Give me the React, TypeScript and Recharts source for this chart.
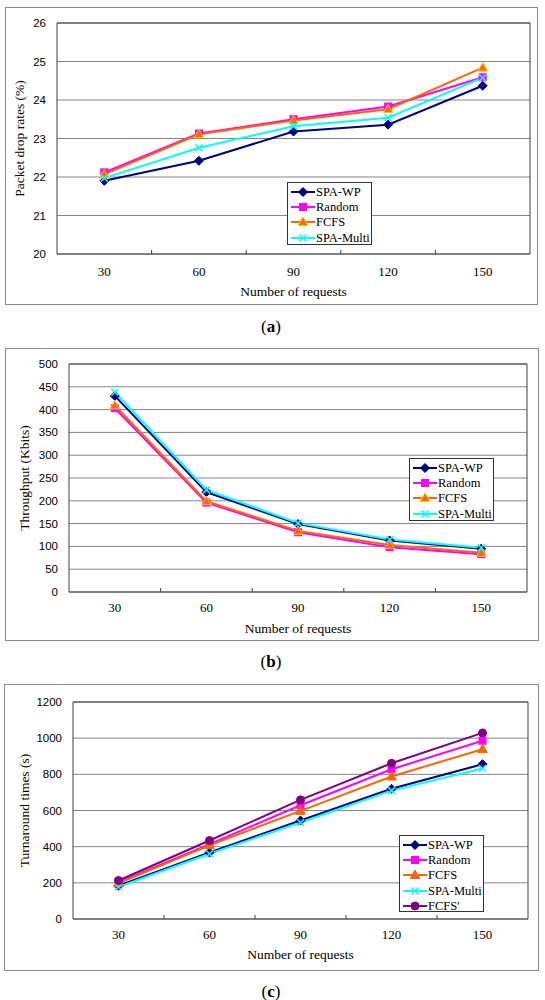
import React from 'react';
import { LineChart, Line, XAxis, YAxis, CartesianGrid, ReferenceArea, Legend } from 'recharts';

// ---------- data ----------
const requests = [30, 60, 90, 120, 150];

const dropTicks = [20, 21, 22, 23, 24, 25, 26];
const dropSpaWp = [21.9, 22.42, 23.18, 23.36, 24.37];
const dropRandom = [22.12, 23.13, 23.5, 23.83, 24.59];
const dropFcfs = [22.07, 23.11, 23.47, 23.76, 24.84];
const dropSpaMulti = [21.97, 22.76, 23.32, 23.54, 24.58];

const thrTicks = [0, 50, 100, 150, 200, 250, 300, 350, 400, 450, 500];
const thrSpaWp = [430, 219, 149, 113, 95];
const thrRandom = [403, 196, 131, 98, 83];
const thrFcfs = [409, 199, 134, 103, 86];
const thrSpaMulti = [438, 224, 151, 115, 97];

const tatTicks = [0, 200, 400, 600, 800, 1000, 1200];
const tatSpaWp = [184, 368, 545, 720, 856];
const tatRandom = [202, 414, 629, 828, 986];
const tatFcfs = [197, 408, 598, 788, 939];
const tatSpaMulti = [177, 361, 534, 710, 832];
const tatFcfsPrime = [213, 434, 659, 861, 1029];

// ---------- helpers ----------
const step = requests[1] - requests[0];
const xDomain = [requests[0] - step / 2, requests[requests.length - 1] + step / 2];
const boundaryTicks = requests.slice(0, -1).map((r) => r + step / 2);
const allXTicks = [...requests, ...boundaryTicks].sort((a, b) => a - b);

type Kind = 'diamond' | 'square' | 'triangle' | 'x' | 'circle';
type Series = { key: string; name: string; values: number[]; color: string; kind: Kind; mFill: string; mStroke: string };

function Marker({ kind, cx, cy, fill, stroke }: { kind: Kind; cx: number; cy: number; fill: string; stroke: string }) {
  if (cx == null || cy == null || isNaN(cx) || isNaN(cy)) return null;
  switch (kind) {
    case 'diamond':
      return <path d={`M${cx},${cy - 4.5}L${cx + 4.5},${cy}L${cx},${cy + 4.5}L${cx - 4.5},${cy}Z`} fill={fill} stroke={stroke} strokeWidth={1} />;
    case 'square':
      return <rect x={cx - 3.5} y={cy - 3.5} width={7} height={7} fill={fill} stroke={stroke} strokeWidth={1} />;
    case 'triangle':
      return <path d={`M${cx},${cy - 5}L${cx + 4.8},${cy + 3.5}L${cx - 4.8},${cy + 3.5}Z`} fill={fill} stroke={stroke} strokeWidth={1} />;
    case 'x':
      return <path d={`M${cx - 3.5},${cy - 3.5}L${cx + 3.5},${cy + 3.5}M${cx - 3.5},${cy + 3.5}L${cx + 3.5},${cy - 3.5}`} fill="none" stroke={stroke} strokeWidth={1.5} />;
    case 'circle':
      return <circle cx={cx} cy={cy} r={4} fill={fill} stroke={stroke} strokeWidth={1} />;
  }
  return null;
}

const NAVY = '#000080';
const MAGENTA = '#FF00FF';
const ORANGE = '#FF6600';
const CYAN = '#00FFFF';
const PURPLE = '#800080';

const dropSeries: Series[] = [
  { key: 's1', name: 'SPA-WP', values: dropSpaWp, color: NAVY, kind: 'diamond', mFill: NAVY, mStroke: NAVY },
  { key: 's2', name: 'Random', values: dropRandom, color: MAGENTA, kind: 'square', mFill: MAGENTA, mStroke: MAGENTA },
  { key: 's3', name: 'FCFS', values: dropFcfs, color: ORANGE, kind: 'triangle', mFill: '#FF6600', mStroke: '#FFCC00' },
  { key: 's4', name: 'SPA-Multi', values: dropSpaMulti, color: CYAN, kind: 'x', mFill: 'none', mStroke: CYAN },
];
const thrSeries: Series[] = [
  { key: 's1', name: 'SPA-WP', values: thrSpaWp, color: NAVY, kind: 'diamond', mFill: NAVY, mStroke: NAVY },
  { key: 's2', name: 'Random', values: thrRandom, color: MAGENTA, kind: 'square', mFill: MAGENTA, mStroke: MAGENTA },
  { key: 's3', name: 'FCFS', values: thrFcfs, color: ORANGE, kind: 'triangle', mFill: '#FF6600', mStroke: '#FFCC00' },
  { key: 's4', name: 'SPA-Multi', values: thrSpaMulti, color: CYAN, kind: 'x', mFill: 'none', mStroke: CYAN },
];
const tatSeries: Series[] = [
  { key: 's1', name: 'SPA-WP', values: tatSpaWp, color: NAVY, kind: 'diamond', mFill: NAVY, mStroke: NAVY },
  { key: 's2', name: 'Random', values: tatRandom, color: MAGENTA, kind: 'square', mFill: MAGENTA, mStroke: MAGENTA },
  { key: 's3', name: 'FCFS', values: tatFcfs, color: ORANGE, kind: 'triangle', mFill: ORANGE, mStroke: ORANGE },
  { key: 's4', name: 'SPA-Multi', values: tatSpaMulti, color: CYAN, kind: 'x', mFill: 'none', mStroke: CYAN },
  { key: 's5', name: "FCFS'", values: tatFcfsPrime, color: PURPLE, kind: 'circle', mFill: PURPLE, mStroke: PURPLE },
];

const SERIF = '"Liberation Serif", "Times New Roman", serif';
const SANS = '"Liberation Sans", Arial, sans-serif';

type PanelCfg = {
  box: { left: number; top: number; width: number; height: number };
  margin: { top: number; right: number; bottom: number; left: number };
  yWidth: number;
  xHeight: number;
  xTickMargin: number;
  yLabelOffset: number;
  xLabelOffset: number;
  yTicks: number[];
  yLabel: string;
  series: Series[];
  legend: { left: number; top: number; width: number; height: number };
  caption: string;
  captionY: number;
};

function makeXTick(tickMargin: number) {
  return (props: any) => {
    const { x, y, payload } = props;
    const v = payload?.value;
    if (requests.includes(v)) {
      return (
        <text x={x} y={y} dy="0.71em" textAnchor="middle" fontFamily={SERIF} fontSize={13} fill="#000">
          {v}
        </text>
      );
    }
    const base = y - tickMargin;
    return <line x1={x} x2={x} y1={base} y2={base - 4} stroke="#404040" strokeWidth={1} />;
  };
}

function makeLegend(series: Series[]) {
  return (props: any) => {
    const payload: any[] = props.payload || [];
    return (
      <div
        style={{
          boxSizing: 'border-box',
          width: '100%',
          height: '100%',
          border: '1px solid #333',
          background: '#fff',
          paddingTop: 1,
        }}
      >
        {series.map((s) => {
          const entry = payload.find((p) => p.dataKey === s.key);
          const label = entry ? entry.value : s.name;
          return (
            <div key={s.key} style={{ display: 'flex', alignItems: 'center', height: 15.3 }}>
              <svg width={24} height={12} style={{ marginLeft: 3, flex: 'none' }}>
                <line x1={0} y1={6} x2={24} y2={6} stroke={s.color} strokeWidth={2} />
                <Marker kind={s.kind} cx={12} cy={6} fill={s.mFill} stroke={s.mStroke} />
              </svg>
              <span style={{ marginLeft: 1, fontFamily: SERIF, fontSize: 12.5, color: '#000', whiteSpace: 'nowrap', lineHeight: '14px' }}>
                {label}
              </span>
            </div>
          );
        })}
      </div>
    );
  };
}

function Panel({ cfg }: { cfg: PanelCfg }) {
  const data = requests.map((x, i) => {
    const row: Record<string, number> = { x };
    cfg.series.forEach((s) => {
      row[s.key] = s.values[i];
    });
    return row;
  });
  const yMin = cfg.yTicks[0];
  const yMax = cfg.yTicks[cfg.yTicks.length - 1];
  return (
    <>
      <div
        style={{
          position: 'absolute',
          left: cfg.box.left,
          top: cfg.box.top,
          width: cfg.box.width,
          height: cfg.box.height,
        }}
      >
        <LineChart width={cfg.box.width} height={cfg.box.height} data={data} margin={cfg.margin}>
          <CartesianGrid vertical={false} stroke="#858585" strokeWidth={1} />
          <XAxis
            dataKey="x"
            type="number"
            domain={xDomain}
            ticks={allXTicks}
            interval={0}
            allowDataOverflow
            axisLine={false}
            tickLine={false}
            tickSize={0}
            tickMargin={cfg.xTickMargin}
            height={cfg.xHeight}
            tick={makeXTick(cfg.xTickMargin)}
            label={{
              value: 'Number of requests',
              position: 'insideBottom',
              offset: cfg.xLabelOffset,
              style: { fontFamily: SERIF, fontSize: 13.5, fill: '#000' },
            }}
          />
          <YAxis
            type="number"
            domain={[yMin, yMax]}
            ticks={cfg.yTicks}
            interval={0}
            allowDataOverflow
            axisLine={false}
            tickLine={false}
            tickSize={0}
            tickMargin={11}
            width={cfg.yWidth}
            tick={{ fontFamily: SANS, fontSize: 11.5, fill: '#000' }}
            label={{
              value: cfg.yLabel,
              angle: -90,
              position: 'insideLeft',
              offset: cfg.yLabelOffset,
              style: { fontFamily: SERIF, fontSize: 13.5, fill: '#000', textAnchor: 'middle' },
            }}
          />
          <ReferenceArea x1={xDomain[0]} x2={xDomain[1]} y1={yMin} y2={yMax} fill="none" stroke="#404040" strokeWidth={1} />
          {cfg.series.map((s) => (
            <Line
              key={s.key}
              dataKey={s.key}
              name={s.name}
              type="linear"
              stroke={s.color}
              strokeWidth={2}
              isAnimationActive={false}
              dot={(p: any) => (
                <Marker key={`${s.key}-${p.index}`} kind={s.kind} cx={p.cx} cy={p.cy} fill={s.mFill} stroke={s.mStroke} />
              )}
              activeDot={false}
            />
          ))}
          <Legend
            layout="vertical"
            align="center"
            verticalAlign="middle"
            itemSorter={null as any}
            content={makeLegend(cfg.series)}
            wrapperStyle={{ left: cfg.legend.left, top: cfg.legend.top, width: cfg.legend.width, height: cfg.legend.height }}
          />
        </LineChart>
      </div>
      <div
        style={{
          position: 'absolute',
          left: cfg.box.left,
          top: cfg.box.top,
          width: cfg.box.width,
          height: cfg.box.height,
          boxSizing: 'border-box',
          border: '1px solid #8a8a8a',
          pointerEvents: 'none',
        }}
      />
      <div
        style={{
          position: 'absolute',
          left: 171,
          width: 200,
          top: cfg.captionY - 11,
          height: 22,
          lineHeight: '22px',
          textAlign: 'center',
          fontFamily: SERIF,
          fontSize: 17,
          color: '#000',
        }}
      >
        (<b>{cfg.caption}</b>)
      </div>
    </>
  );
}

const panelA: PanelCfg = {
  box: { left: 5, top: 7, width: 533, height: 298 },
  margin: { top: 16, right: 8, bottom: 0, left: 0 },
  yWidth: 52,
  xHeight: 51,
  xTickMargin: 13,
  yLabelOffset: 14,
  xLabelOffset: 9,
  yTicks: dropTicks,
  yLabel: 'Packet drop rates (%)',
  series: dropSeries,
  legend: { left: 282, top: 175, width: 85, height: 63 },
  caption: 'a',
  captionY: 327,
};

const panelB: PanelCfg = {
  box: { left: 5, top: 348, width: 534, height: 293 },
  margin: { top: 16, right: 12, bottom: 0, left: 0 },
  yWidth: 64,
  xHeight: 49,
  xTickMargin: 11,
  yLabelOffset: 19,
  xLabelOffset: 8,
  yTicks: thrTicks,
  yLabel: 'Throughput (Kbits)',
  series: thrSeries,
  legend: { left: 404, top: 110, width: 85, height: 63 },
  caption: 'b',
  captionY: 662,
};

const panelC: PanelCfg = {
  box: { left: 4, top: 684, width: 535, height: 287 },
  margin: { top: 18, right: 11, bottom: 0, left: 0 },
  yWidth: 69,
  xHeight: 52,
  xTickMargin: 11,
  yLabelOffset: 20,
  xLabelOffset: 12,
  yTicks: tatTicks,
  yLabel: 'Turnaround times (s)',
  series: tatSeries,
  legend: { left: 395, top: 151, width: 85, height: 77 },
  caption: 'c',
  captionY: 992,
};

export default function App() {
  return (
    <div style={{ position: 'absolute', left: 0, top: 0, width: 545, height: 1000, background: '#fff', overflow: 'hidden' }}>
      <Panel cfg={panelA} />
      <Panel cfg={panelB} />
      <Panel cfg={panelC} />
    </div>
  );
}
